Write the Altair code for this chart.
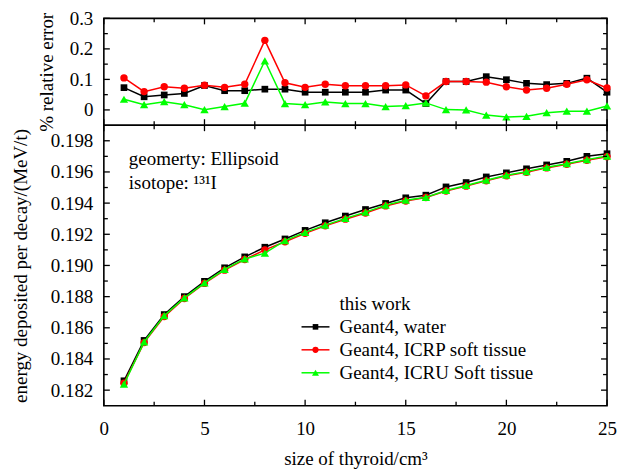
import altair as alt
import pandas as pd

# ---------------- data ----------------
sizes = list(range(1, 26))

series = ["Geant4, water", "Geant4, ICRP soft tissue", "Geant4, ICRU Soft tissue"]
colors = ["#000000", "#ff0000", "#00ff00"]
shapes = ["square", "circle", "triangle-up"]
marker_sizes = [45, 55, 70]

err_water = [0.073, 0.043, 0.049, 0.054, 0.080, 0.063, 0.063, 0.068, 0.068, 0.058,
             0.058, 0.058, 0.058, 0.065, 0.065, 0.021, 0.093, 0.093, 0.109, 0.099,
             0.087, 0.083, 0.087, 0.104, 0.058]
err_icrp = [0.105, 0.060, 0.076, 0.071, 0.081, 0.074, 0.084, 0.228, 0.089, 0.074,
            0.084, 0.079, 0.079, 0.079, 0.082, 0.046, 0.093, 0.093, 0.091, 0.076,
            0.065, 0.071, 0.084, 0.099, 0.072]
err_icru = [0.035, 0.017, 0.027, 0.017, 0.001, 0.011, 0.022, 0.161, 0.021, 0.017,
            0.026, 0.021, 0.021, 0.011, 0.014, 0.023, 0.001, 0.000, -0.017, -0.023,
            -0.021, -0.009, -0.004, -0.004, 0.013]

e_water = [0.18260, 0.18519, 0.18685, 0.18800, 0.18898, 0.18985, 0.19055, 0.19117, 0.19170, 0.19225,
           0.19274, 0.19317, 0.19359, 0.19398, 0.19434, 0.19451, 0.19504, 0.19532, 0.19568, 0.19594,
           0.19620, 0.19645, 0.19668, 0.19700, 0.19717]
e_icrp = [0.18245, 0.18505, 0.18672, 0.18788, 0.18885, 0.18970, 0.19038, 0.19100, 0.19152, 0.19206,
          0.19254, 0.19297, 0.19337, 0.19382, 0.19414, 0.19436, 0.19478, 0.19509, 0.19543, 0.19575,
          0.19598, 0.19626, 0.19649, 0.19675, 0.19698]
e_icru = [0.18238, 0.18509, 0.18678, 0.18792, 0.18888, 0.18975, 0.19042, 0.19079, 0.19159, 0.19212,
          0.19259, 0.19302, 0.19342, 0.19387, 0.19419, 0.19437, 0.19481, 0.19513, 0.19547, 0.19579,
          0.19602, 0.19630, 0.19653, 0.19679, 0.19702]

x_major = [0, 5, 10, 15, 20, 25]
x_minor = [2.5, 7.5, 12.5, 17.5, 22.5]
err_major = [0, 0.1, 0.2, 0.3]
err_minor = [0.05, 0.15, 0.25]
e_major = [0.182, 0.184, 0.186, 0.188, 0.190, 0.192, 0.194, 0.196, 0.198]
e_minor = [0.183, 0.185, 0.187, 0.189, 0.191, 0.193, 0.195, 0.197]

annot_lines = ["geomerty: Ellipsoid", "isotope: \u00b9\u00b3\u00b9I"]
legend_title = "this work"

# ---------------- layout ----------------
W = 504
H_TOP = 107
H_BOT = 281
FONT = "Liberation Serif, Times New Roman, Times, serif"
FS = 19
MAJ = 6
MIN = 4


def long_df(cols):
    rows = []
    for name, vals in zip(series, cols):
        for s, v in zip(sizes, vals):
            rows.append({"size": s, "series": name, "value": v})
    return pd.DataFrame(rows)


df_err = long_df([err_water, err_icrp, err_icru])
df_e = long_df([e_water, e_icrp, e_icru])


def panel(df, ydom, ymaj, ymin, height, show_x, ytitle, yfmt, title_x):
    xscale = alt.Scale(domain=[0, 25], nice=False, zero=False)
    yscale = alt.Scale(domain=ydom, nice=False, zero=False)
    if show_x:
        xaxis = alt.Axis(values=x_major, format="d", ticks=False, domain=False, grid=False,
                         labelFlush=False, labelPadding=14, title="size of thyroid/cm\u00b3",
                         titlePadding=11)
    else:
        xaxis = None
    yaxis = alt.Axis(values=ymaj, format=yfmt, ticks=False, domain=False, grid=False,
                     labelPadding=11, title=ytitle, titleX=title_x, titleY=height / 2,
                     titleAngle=270, titleAlign="center", titleBaseline="middle")

    def X(f):
        if xaxis is None:
            return alt.X(f, scale=xscale, axis=None)
        return alt.X(f, scale=xscale, axis=xaxis, title=xaxis.title)

    def Y(f):
        return alt.Y(f, scale=yscale, axis=yaxis, title=ytitle)

    layers = []
    for name, col, shp, ms in zip(series, colors, shapes, marker_sizes):
        base = alt.Chart(df).transform_filter(alt.datum.series == name)
        layers.append(base.mark_line(color=col, strokeWidth=1.5).encode(x=X("size:Q"), y=Y("value:Q")))
        layers.append(base.mark_point(filled=True, shape=shp, size=ms, color=col, opacity=1)
                      .encode(x=X("size:Q"), y=Y("value:Q")))

    # inward ticks (gnuplot style) on all four sides
    for vals, ln in ((ymaj, MAJ), (ymin, MIN)):
        tdf = pd.DataFrame({"t": vals})
        layers.append(alt.Chart(tdf).mark_rule(color="black", strokeWidth=1.3).encode(
            y=Y("t:Q"), x=alt.value(0), x2=alt.value(ln)))
        layers.append(alt.Chart(tdf).mark_rule(color="black", strokeWidth=1.3).encode(
            y=Y("t:Q"), x=alt.value(W), x2=alt.value(W - ln)))
    for vals, ln in ((x_major, MAJ), (x_minor, MIN)):
        tdf = pd.DataFrame({"t": vals})
        layers.append(alt.Chart(tdf).mark_rule(color="black", strokeWidth=1.3).encode(
            x=X("t:Q"), y=alt.value(height), y2=alt.value(height - ln)))
        layers.append(alt.Chart(tdf).mark_rule(color="black", strokeWidth=1.3).encode(
            x=X("t:Q"), y=alt.value(0), y2=alt.value(ln)))
    return layers


top_layers = panel(df_err, [-0.05, 0.3], err_major, err_minor, H_TOP, False,
                   "% relative error", ".1~f", -57)
bot_layers = panel(df_e, [0.181, 0.199], e_major, e_minor, H_BOT, True,
                   "energy deposited per decay/(MeV/t)", ".3f", -83)

# annotation text
for i, line in enumerate(annot_lines):
    bot_layers.append(
        alt.Chart(pd.DataFrame({"txt": [line]})).mark_text(
            align="left", baseline="middle", font=FONT, fontSize=FS, color="black"
        ).encode(text="txt:N", x=alt.value(25), y=alt.value(34 + 24 * i))
    )

# manual legend (line through marker, like gnuplot)
LEG_Y0 = 179
LEG_DY = 23
LX = 198
bot_layers.append(
    alt.Chart(pd.DataFrame({"txt": [legend_title]})).mark_text(
        align="left", baseline="middle", font=FONT, fontSize=FS, color="black"
    ).encode(text="txt:N", x=alt.value(LX + 38), y=alt.value(LEG_Y0))
)
for i, (name, col, shp, ms) in enumerate(zip(series, colors, shapes, marker_sizes)):
    yy = LEG_Y0 + LEG_DY * (i + 1)
    ldf = pd.DataFrame({"series": [name]})
    bot_layers.append(alt.Chart(ldf).mark_rule(color=col, strokeWidth=1.5).encode(
        x=alt.value(LX), x2=alt.value(LX + 28), y=alt.value(yy)))
    bot_layers.append(alt.Chart(ldf).mark_point(filled=True, shape=shp, size=ms * 0.7,
                                                color=col, opacity=1).encode(
        x=alt.value(LX + 14), y=alt.value(yy)))
    bot_layers.append(alt.Chart(ldf).mark_text(
        align="left", baseline="middle", font=FONT, fontSize=FS, color="black"
    ).encode(text="series:N", x=alt.value(LX + 38), y=alt.value(yy)))

top = alt.layer(*top_layers).properties(width=W, height=H_TOP)
bottom = alt.layer(*bot_layers).properties(width=W, height=H_BOT)

chart = alt.vconcat(top, bottom, spacing=0, bounds="flush").properties(
    padding={"left": 3, "top": 0, "right": 5, "bottom": 2},
    background="white"
).configure_view(
    stroke="black", strokeWidth=1.6
).configure_axis(
    labelFont=FONT, titleFont=FONT, labelFontSize=FS, titleFontSize=FS,
    labelColor="black", titleColor="black", titleFontWeight="normal"
)

chart.save("out.html", embed_options={"renderer": "svg", "actions": False})
